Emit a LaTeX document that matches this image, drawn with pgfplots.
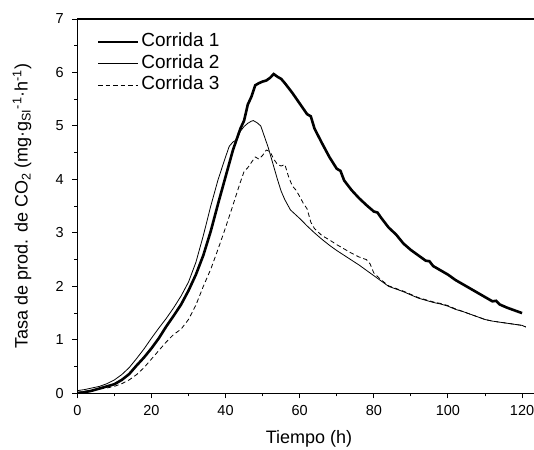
\documentclass[border=0pt]{standalone}
\usepackage{fontspec}
\setmainfont{Liberation Sans}
\usepackage{pgfplots}
\pgfplotsset{compat=1.18}

\begin{document}
\begin{tikzpicture}
\useasboundingbox (-77.3bp,-56.7bp) rectangle (456.7bp,393.3bp);
\begin{axis}[
    at={(0,0)}, anchor=south west,
    scale only axis,
    width=463.3bp, height=374.3bp,
    xmin=0, xmax=125, ymin=0, ymax=7,
    xtick={0,20,...,120}, minor xtick={10,30,...,110},
    ytick={0,1,...,7}, minor ytick={0.5,1.5,...,6.5},
    tick align=outside, xtick pos=bottom, ytick pos=left,
    major tick length=5bp, minor tick length=3bp,
    tick style={black, line width=0.9bp},
    axis line style={line width=1.1bp},
    /pgf/number format/assume math mode=true,
    ticklabel style={font=\fontsize{14.5bp}{16bp}\selectfont},
    xticklabel style={yshift=-4bp},
    yticklabel style={xshift=-5bp},
    label style={font=\fontsize{18bp}{21bp}\selectfont},
    xlabel={Tiempo (h)},
    ylabel={Tasa de prod. de CO\textsubscript{2} (mg·g\textsubscript{SI}\textsuperscript{-1}·h\textsuperscript{-1})},
    xlabel style={at={(axis description cs:0.5,0)}, anchor=base, yshift=-49.7bp},
    ylabel style={at={(axis description cs:0,0.5)}, anchor=base, yshift=49.6bp},
    legend cell align=left,
    legend style={draw=none, fill=none, at={(axis description cs:0.035,0.968)}, anchor=north west,
        font=\fontsize{19bp}{22bp}\selectfont, row sep=4bp,
        nodes={inner ysep=0pt, inner xsep=2bp, text height=13.5bp, text depth=4bp}},
    legend image code/.code={\draw[#1] (0bp,0bp) -- (40bp,0bp);},
]
\addplot[black, line width=2.6bp] coordinates {
(0,0.00) (2,0.02) (4,0.05) (6,0.09) (8,0.13) (10,0.17) (12,0.25) (14,0.36) (16,0.52) (18,0.67)
(20,0.84) (22,1.03) (24,1.25) (26,1.45) (28,1.66) (30,1.92) (32,2.22) (34,2.58) (36,3.03) (38,3.55)
(40,4.05) (42,4.55) (44,4.95) (45,5.10) (46,5.40) (47,5.55) (48,5.76) (49,5.80) (50,5.83) (51,5.85)
(52,5.90) (53,5.97) (54,5.92) (55,5.88) (56,5.80) (58,5.62) (60,5.42) (62,5.22) (63,5.18) (64,4.95)
(66,4.68) (68,4.42) (70,4.20) (71,4.16) (72,3.98) (74,3.80) (76,3.65) (78,3.52) (80,3.40) (81,3.38)
(82,3.28) (84,3.10) (86,2.97) (88,2.80) (90,2.68) (92,2.58) (94,2.48) (95,2.47) (96,2.38) (98,2.30)
(100,2.22) (102,2.12) (104,2.04) (106,1.96) (108,1.88) (110,1.80) (112,1.72) (113,1.73) (114,1.66)
(116,1.60) (118,1.55) (120,1.50)
};
\addplot[black, line width=0.8bp] coordinates {
(0,0.05) (2,0.07) (4,0.10) (6,0.13) (8,0.18) (10,0.25) (12,0.35) (14,0.48) (16,0.65) (18,0.83)
(20,1.03) (22,1.22) (24,1.40) (26,1.60) (28,1.82) (30,2.08) (32,2.45) (34,2.95) (36,3.50) (38,4.00)
(40,4.42) (41,4.62) (42,4.70) (43,4.74) (44,4.90) (45,4.99) (46,5.05) (47,5.09) (47.5,5.10)
(48.5,5.06) (49.5,5.00) (50.5,4.80) (51.5,4.60) (53,4.24) (54,4.00) (55,3.78) (56,3.62) (57.5,3.43)
(60,3.27) (62,3.13) (64,3.00) (66,2.88) (68,2.77) (70,2.67) (72,2.58) (74,2.49) (76,2.40) (78,2.30)
(80,2.20) (82,2.10) (84,2.00) (86,1.95) (88,1.90) (90,1.84) (92,1.78) (94,1.74) (96,1.70) (98,1.67)
(100,1.63) (102,1.57) (104,1.53) (106,1.48) (108,1.43) (110,1.38) (112,1.35) (114,1.33) (116,1.31)
(118,1.29) (120,1.27) (121,1.24)
};
\addplot[black, line width=0.8bp, dash pattern=on 4.5bp off 3bp] coordinates {
(0,0.02) (2,0.04) (4,0.06) (6,0.08) (8,0.10) (10,0.13) (12,0.18) (14,0.25) (16,0.35) (18,0.48)
(20,0.64) (22,0.80) (24,0.96) (26,1.10) (28,1.20) (30,1.38) (32,1.65) (34,2.00) (36,2.32) (38,2.70)
(40,3.10) (42,3.52) (44,3.95) (45,4.15) (46,4.22) (47,4.32) (48,4.42) (49,4.38) (50,4.45) (51,4.55)
(52,4.52) (53,4.38) (54,4.28) (55,4.25) (56,4.28) (57,4.05) (58,3.88) (59,3.80) (60,3.68) (61,3.55)
(62,3.45) (63,3.20) (64,3.08) (66,2.95) (68,2.87) (70,2.78) (72,2.70) (74,2.62) (76,2.55) (78,2.50)
(79,2.42) (80,2.25) (82,2.12) (84,2.01) (86,1.96) (88,1.91) (90,1.85) (92,1.79) (94,1.75) (96,1.71)
(98,1.68) (100,1.64) (102,1.58) (104,1.53) (106,1.48) (108,1.43) (110,1.38) (112,1.35) (114,1.33)
(116,1.31) (118,1.29) (120,1.27) (121,1.24)
};
\legend{Corrida 1, Corrida 2, Corrida 3}
\end{axis}
\end{tikzpicture}
\end{document}
